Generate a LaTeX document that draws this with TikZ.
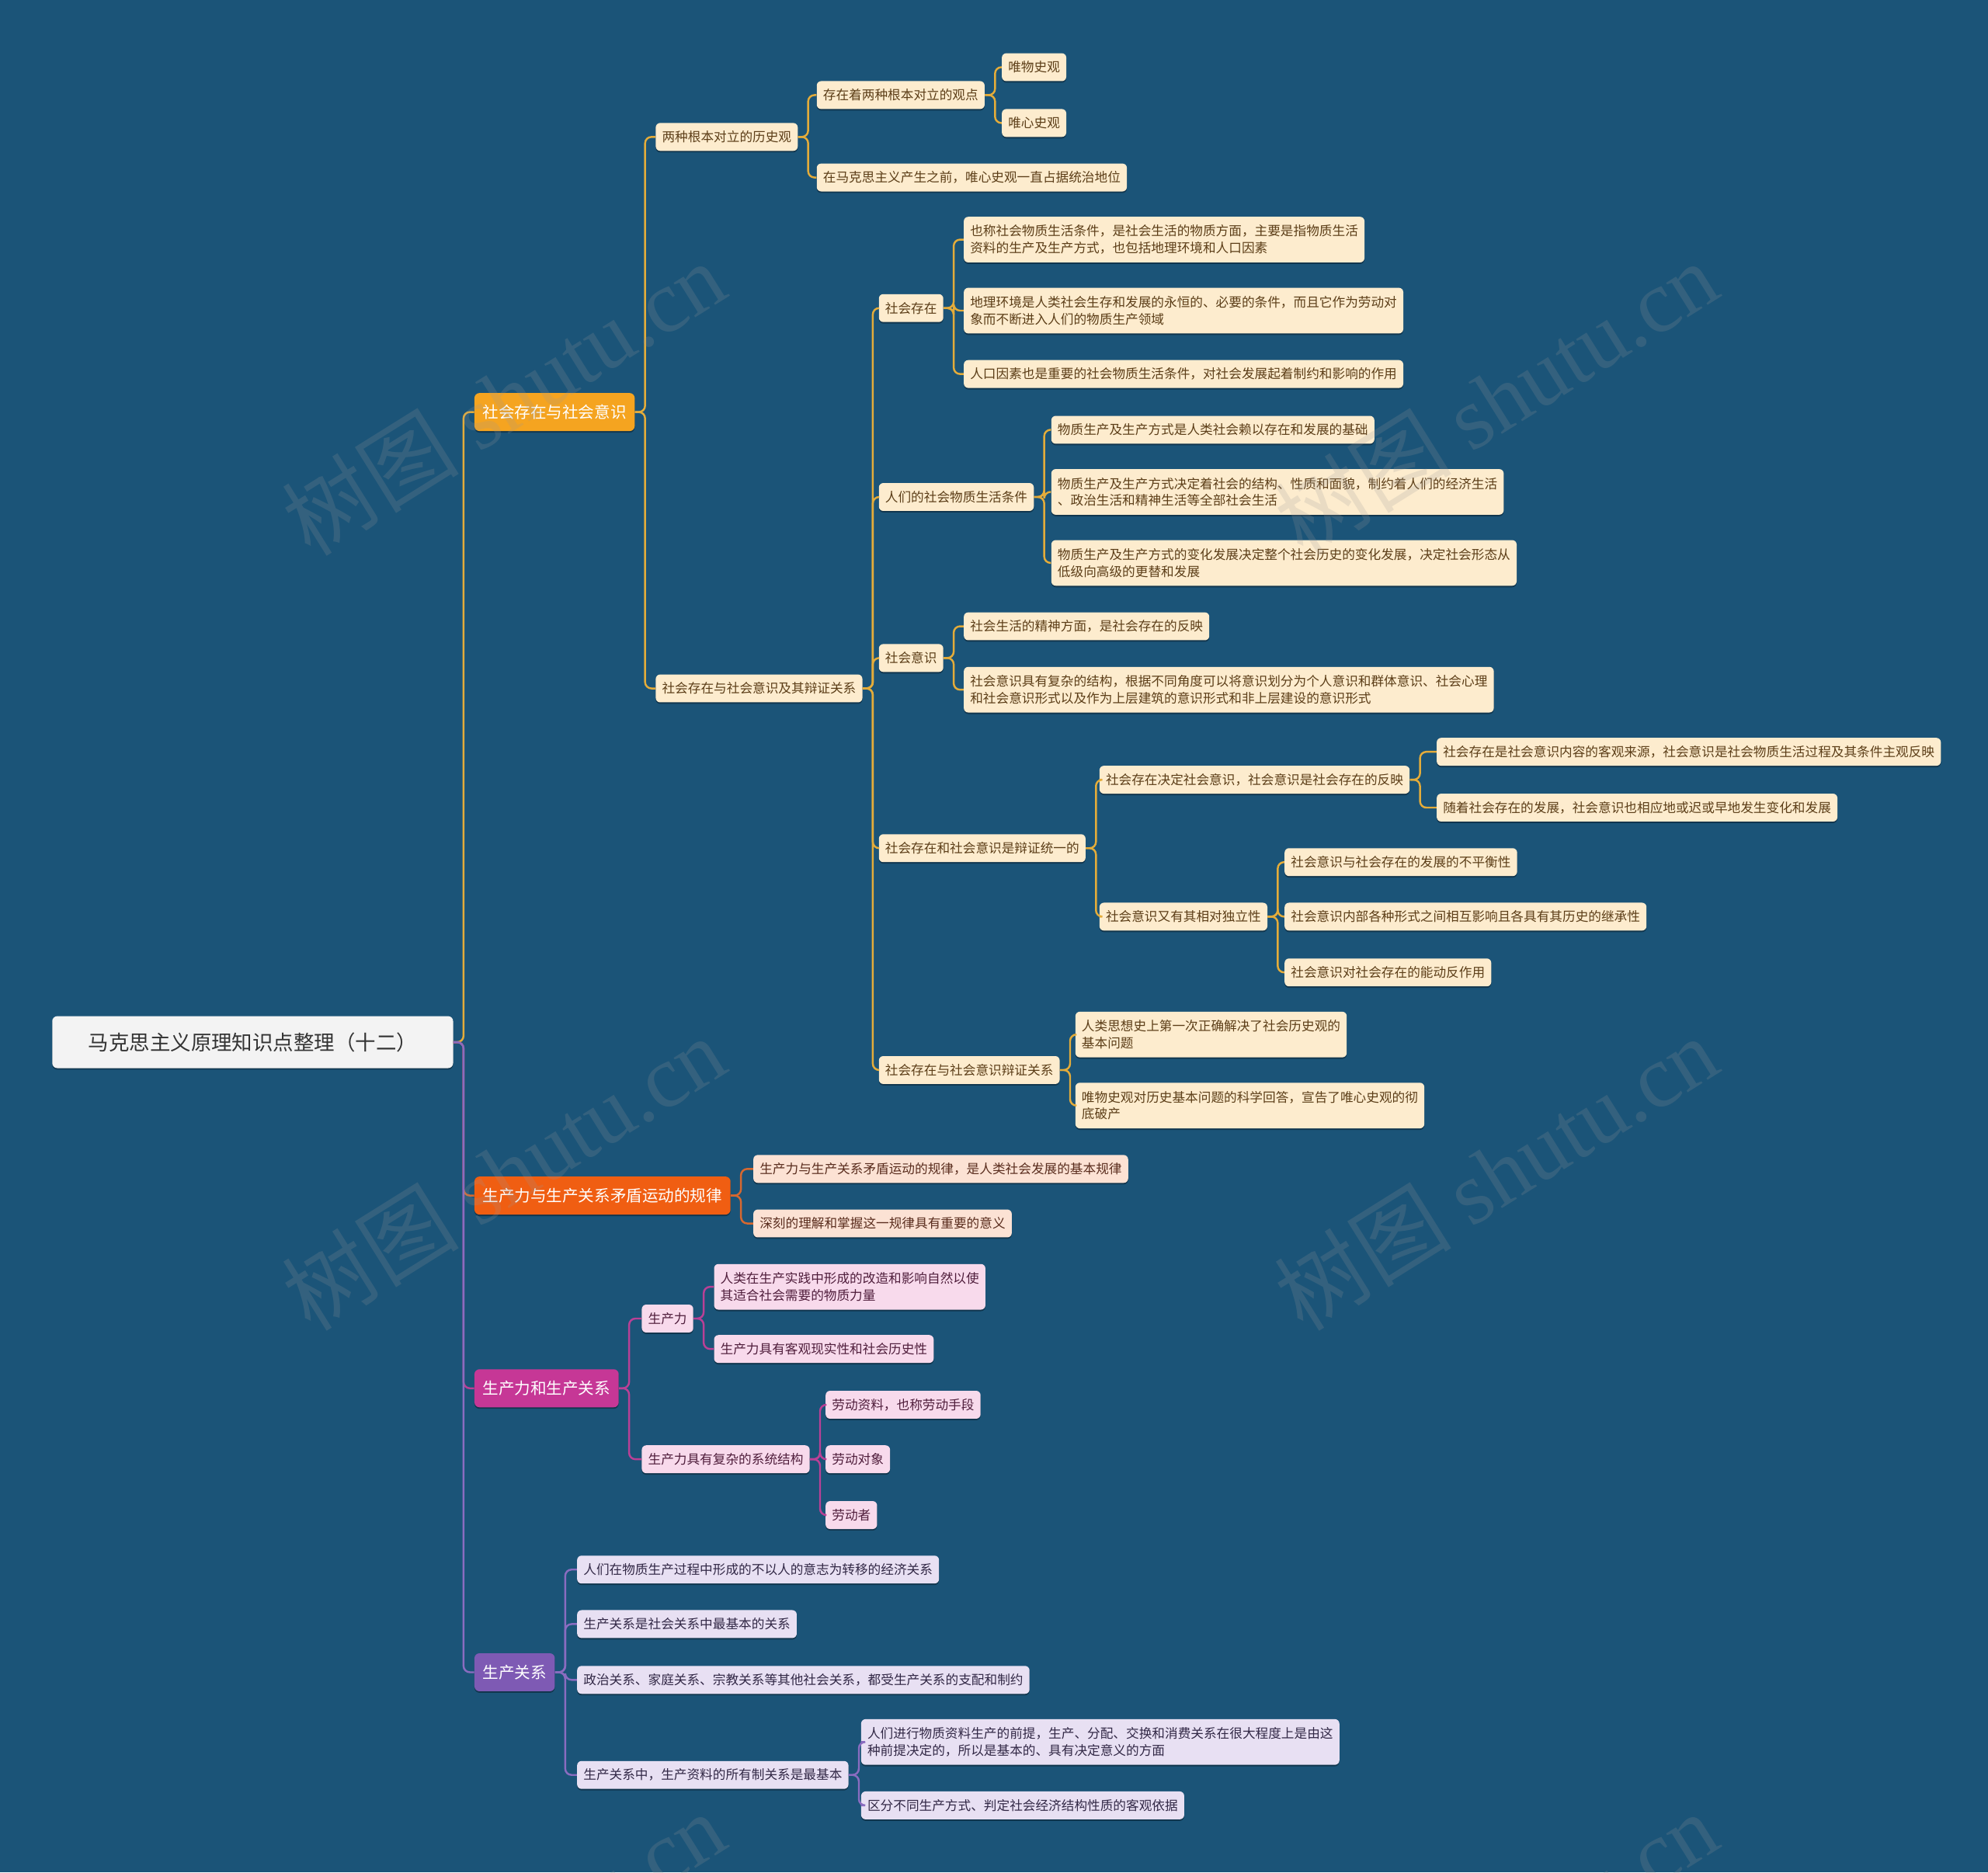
\documentclass[tikz,border=0pt]{standalone}
\usepackage{fontspec}
\setmainfont{Noto Sans CJK SC}
\newfontfamily\wmlatin{Liberation Serif}
\usetikzlibrary{shadows}
\definecolor{bg}{RGB}{27,84,120}
\definecolor{rootfill}{RGB}{243,243,243}
\definecolor{roottxt}{RGB}{51,51,51}
\definecolor{oA}{RGB}{245,164,32}
\definecolor{oB}{RGB}{240,94,18}
\definecolor{oC}{RGB}{198,55,150}
\definecolor{oD}{RGB}{126,90,180}
\definecolor{leafA}{RGB}{253,236,206}
\definecolor{leafB}{RGB}{252,226,212}
\definecolor{leafC}{RGB}{248,218,236}
\definecolor{leafD}{RGB}{232,224,243}
\definecolor{txtA}{RGB}{92,62,24}
\definecolor{txtB}{RGB}{90,45,30}
\definecolor{txtC}{RGB}{80,30,60}
\definecolor{txtD}{RGB}{50,40,70}
\definecolor{lineA}{RGB}{228,172,58}
\definecolor{lineB}{RGB}{214,104,48}
\definecolor{lineC}{RGB}{186,64,150}
\definecolor{lineD}{RGB}{138,108,192}
\newcommand\fsz[2]{\fontsize{#1}{#2}\selectfont}
\newcommand\lnk[3]{\draw[#1] (#2.east) -- ++(8,0) |- (#3.west);}
\tikzset{
  sh/.style={drop shadow={shadow xshift=0pt,shadow yshift=-1.2pt,opacity=0.35,fill=black}},
  box/.style={sh,rounded corners=3.5pt,anchor=west,inner xsep=5pt,inner ysep=0pt,
    minimum height=22pt,font=\fsz{10.2}{13.2},align=left},
  two/.style={minimum height=36pt},
  lA/.style={box,fill=leafA,text=txtA},
  lB/.style={box,fill=leafB,text=txtB},
  lC/.style={box,fill=leafC,text=txtC},
  lD/.style={box,fill=leafD,text=txtD},
  topic/.style={sh,rounded corners=4pt,anchor=west,inner xsep=6.5pt,inner ysep=0pt,
    minimum height=30pt,font=\fsz{12.6}{15},text=white},
  rootbox/.style={sh,rounded corners=4pt,anchor=west,inner xsep=28.5pt,inner ysep=0pt,
    minimum height=41pt,font=\fsz{16.2}{19},fill=rootfill,text=roottxt},
  cA/.style={draw=lineA,line width=1.5pt,rounded corners=5pt},
  cB/.style={draw=lineB,line width=1.5pt,rounded corners=5pt},
  cC/.style={draw=lineC,line width=1.5pt,rounded corners=5pt},
  cD/.style={draw=lineD,line width=1.5pt,rounded corners=5pt},
  wm/.style={rotate=32,text=gray!80,opacity=0.2,font=\fsz{70}{76}}
}
\begin{document}
\begin{tikzpicture}[x=1pt,y=-1pt]
\fill[bg] (0,0) rectangle (1568,1477);
\useasboundingbox (0,0) rectangle (1568,1477);

% root and main topics
\node[rootbox] (root) at (41,822) {马克思主义原理知识点整理（十二）};
\node[topic,fill=oA] (A) at (374,325) {社会存在与社会意识};
\node[topic,fill=oB] (B) at (374,943) {生产力与生产关系矛盾运动的规律};
\node[topic,fill=oC] (C) at (374,1095) {生产力和生产关系};
\node[topic,fill=oD] (D) at (374,1319) {生产关系};

% branch A
\node[lA] (a1) at (517,108) {两种根本对立的历史观};
\node[lA] (a2) at (517,543) {社会存在与社会意识及其辩证关系};
\node[lA] (a11) at (644,75) {存在着两种根本对立的观点};
\node[lA] (a12) at (644,140) {在马克思主义产生之前，唯心史观一直占据统治地位};
\node[lA] (a111) at (790,53) {唯物史观};
\node[lA] (a112) at (790,97) {唯心史观};
\node[lA] (a21) at (693,243) {社会存在};
\node[lA] (a22) at (693,392) {人们的社会物质生活条件};
\node[lA] (a23) at (693,519) {社会意识};
\node[lA] (a24) at (693,669) {社会存在和社会意识是辩证统一的};
\node[lA] (a25) at (693,844) {社会存在与社会意识辩证关系};
\node[lA,two] (a211) at (760,189) {也称社会物质生活条件，是社会生活的物质方面，主要是指物质生活\\资料的生产及生产方式，也包括地理环境和人口因素};
\node[lA,two] (a212) at (760,245) {地理环境是人类社会生存和发展的永恒的、必要的条件，而且它作为劳动对\\象而不断进入人们的物质生产领域};
\node[lA] (a213) at (760,295) {人口因素也是重要的社会物质生活条件，对社会发展起着制约和影响的作用};
\node[lA] (a221) at (829,339) {物质生产及生产方式是人类社会赖以存在和发展的基础};
\node[lA,two] (a222) at (829,388) {物质生产及生产方式决定着社会的结构、性质和面貌，制约着人们的经济生活\\、政治生活和精神生活等全部社会生活};
\node[lA,two] (a223) at (829,444) {物质生产及生产方式的变化发展决定整个社会历史的变化发展，决定社会形态从\\低级向高级的更替和发展};
\node[lA] (a231) at (760,494) {社会生活的精神方面，是社会存在的反映};
\node[lA,two] (a232) at (760,544) {社会意识具有复杂的结构，根据不同角度可以将意识划分为个人意识和群体意识、社会心理\\和社会意识形式以及作为上层建筑的意识形式和非上层建设的意识形式};
\node[lA] (a241) at (867,615) {社会存在决定社会意识，社会意识是社会存在的反映};
\node[lA] (a242) at (867,723) {社会意识又有其相对独立性};
\node[lA] (a2411) at (1133,593) {社会存在是社会意识内容的客观来源，社会意识是社会物质生活过程及其条件主观反映};
\node[lA] (a2412) at (1133,637) {随着社会存在的发展，社会意识也相应地或迟或早地发生变化和发展};
\node[lA] (a2421) at (1013,680) {社会意识与社会存在的发展的不平衡性};
\node[lA] (a2422) at (1013,723) {社会意识内部各种形式之间相互影响且各具有其历史的继承性};
\node[lA] (a2423) at (1013,767) {社会意识对社会存在的能动反作用};
\node[lA,two] (a251) at (848,816) {人类思想史上第一次正确解决了社会历史观的\\基本问题};
\node[lA,two] (a252) at (848,872) {唯物史观对历史基本问题的科学回答，宣告了唯心史观的彻\\底破产};

% branch B
\node[lB] (b1) at (594,922) {生产力与生产关系矛盾运动的规律，是人类社会发展的基本规律};
\node[lB] (b2) at (594,965) {深刻的理解和掌握这一规律具有重要的意义};

% branch C
\node[lC] (c1) at (506,1040) {生产力};
\node[lC] (c2) at (506,1151) {生产力具有复杂的系统结构};
\node[lC,two] (c11) at (563,1015) {人类在生产实践中形成的改造和影响自然以使\\其适合社会需要的物质力量};
\node[lC] (c12) at (563,1064) {生产力具有客观现实性和社会历史性};
\node[lC] (c21) at (651,1108) {劳动资料，也称劳动手段};
\node[lC] (c22) at (651,1151) {劳动对象};
\node[lC] (c23) at (651,1195) {劳动者};

% branch D
\node[lD] (d1) at (455,1238) {人们在物质生产过程中形成的不以人的意志为转移的经济关系};
\node[lD] (d2) at (455,1281) {生产关系是社会关系中最基本的关系};
\node[lD] (d3) at (455,1325) {政治关系、家庭关系、宗教关系等其他社会关系，都受生产关系的支配和制约};
\node[lD] (d4) at (455,1400) {生产关系中，生产资料的所有制关系是最基本};
\node[lD,two] (d41) at (679,1374) {人们进行物质资料生产的前提，生产、分配、交换和消费关系在很大程度上是由这\\种前提决定的，所以是基本的、具有决定意义的方面};
\node[lD] (d42) at (679,1424) {区分不同生产方式、判定社会经济结构性质的客观依据};

% connectors
\lnk{cA}{root}{A}
\lnk{cB}{root}{B}
\lnk{cC}{root}{C}
\lnk{cD}{root}{D}
\lnk{cA}{A}{a1} \lnk{cA}{A}{a2}
\lnk{cA}{a1}{a11} \lnk{cA}{a1}{a12}
\lnk{cA}{a11}{a111} \lnk{cA}{a11}{a112}
\lnk{cA}{a2}{a21} \lnk{cA}{a2}{a22} \lnk{cA}{a2}{a23} \lnk{cA}{a2}{a24} \lnk{cA}{a2}{a25}
\lnk{cA}{a21}{a211} \lnk{cA}{a21}{a212} \lnk{cA}{a21}{a213}
\lnk{cA}{a22}{a221} \lnk{cA}{a22}{a222} \lnk{cA}{a22}{a223}
\lnk{cA}{a23}{a231} \lnk{cA}{a23}{a232}
\lnk{cA}{a24}{a241} \lnk{cA}{a24}{a242}
\lnk{cA}{a241}{a2411} \lnk{cA}{a241}{a2412}
\lnk{cA}{a242}{a2421} \lnk{cA}{a242}{a2422} \lnk{cA}{a242}{a2423}
\lnk{cA}{a25}{a251} \lnk{cA}{a25}{a252}
\lnk{cB}{B}{b1} \lnk{cB}{B}{b2}
\lnk{cC}{C}{c1} \lnk{cC}{C}{c2}
\lnk{cC}{c1}{c11} \lnk{cC}{c1}{c12}
\lnk{cC}{c2}{c21} \lnk{cC}{c2}{c22} \lnk{cC}{c2}{c23}
\lnk{cD}{D}{d1} \lnk{cD}{D}{d2} \lnk{cD}{D}{d3} \lnk{cD}{D}{d4}
\lnk{cD}{d4}{d41} \lnk{cD}{d4}{d42}

% watermarks
\begin{scope}
\clip (0,0) rectangle (1568,1477);
\foreach \wx/\wy/\wn in {397/314/w1,1180/314/w2,397/925/w3,1180/925/w4,397/1537/w5,1180/1537/w6}{
  \node[wm] (\wn) at (\wx,\wy) {树图\ {\wmlatin shutu.cn}};
}
\end{scope}
\end{tikzpicture}
\end{document}
